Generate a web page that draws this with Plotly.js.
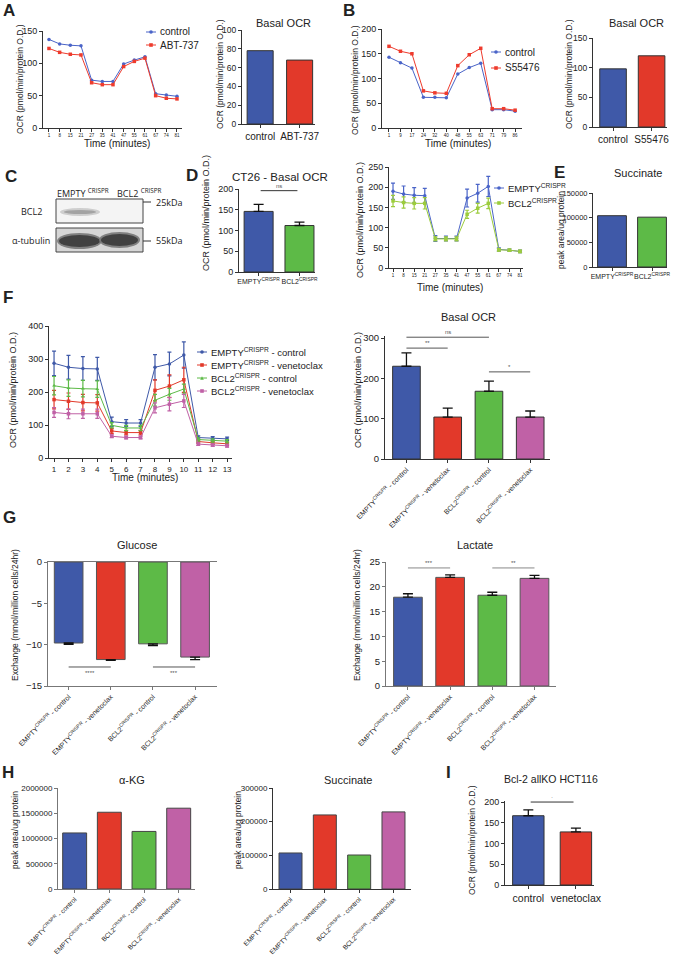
<!DOCTYPE html>
<html><head><meta charset="utf-8">
<script src="https://cdn.plot.ly/plotly-3.0.1.min.js"></script>
<style>html,body{margin:0;padding:0;background:#fff}#chart{width:685px;height:957px}</style>
</head><body><div id="chart"></div>
<script>
// ---------- DATA ----------
const aTime=['1','8','15','21','27','35','41','47','55','61','67','74','81'];
const aControl=[137,130,128,127,74,72,72,99,105,110,53,51,49];
const aABT737=[123,117,114,113,70,67,67,95,103,108,50,46,45];
const aBarGroups=['control','ABT-737'];
const aBasalOCR=[78,68];

const bTime=['1','9','17','24','32','40','48','55','63','71','79','86'];
const bControl=[143,132,121,62,62,61,109,122,131,37,37,34];
const bS55476=[165,155,150,75,71,70,126,148,161,39,39,36];
const bBarGroups=['control','S55476'];
const bBasalOCR=[98,120];

const dGroups=['EMPTY<sup>CRISPR</sup>','BCL2<sup>CRISPR</sup>'];
const dBasalOCR=[146,112];
const dBasalErr=[17,8];
const dTime=['1','8','15','21','27','35','41','47','55','61','67','74','81'];
const dEmpty=[190,183,180,179,73,73,73,173,185,202,46,44,41];
const dEmptyErr=[20,20,19,18,7,6,6,22,22,25,4,3,3];
const dBcl2=[166,162,160,160,72,72,72,133,148,160,45,44,41];
const dBcl2Err=[14,14,14,14,5,5,5,10,12,13,3,3,3];

const eGroups=['EMPTY<sup>CRISPR</sup>','BCL2<sup>CRISPR</sup>'];
const eSuccinate=[104000,101000];

const fTime=['1','2','3','4','5','6','7','8','9','10','11','12','13'];
const fEmptyCtrl=[287,275,271,270,110,106,106,275,285,312,62,60,58];
const fEmptyCtrlErr=[37,36,36,35,14,10,10,38,36,40,5,5,5];
const fEmptyVen=[177,172,168,167,82,77,77,205,218,237,50,46,43];
const fEmptyVenErr=[28,25,25,25,8,7,7,32,34,38,5,5,5];
const fBcl2Ctrl=[219,212,210,209,99,91,91,175,193,209,56,53,51];
const fBcl2CtrlErr=[28,25,25,25,8,8,8,18,18,15,5,5,5];
const fBcl2Ven=[138,134,134,134,66,62,62,152,163,173,42,39,37];
const fBcl2VenErr=[15,15,14,14,4,4,4,15,20,20,4,4,4];
const fGroups=['EMPTY<sup>CRISPR</sup> - control','EMPTY<sup>CRISPR</sup> - venetoclax','BCL2<sup>CRISPR</sup> - control','BCL2<sup>CRISPR</sup> - venetoclax'];
const fBasalOCR=[230,104,168,104];
const fBasalErr=[33,22,25,15];

const gGlucose=[-9.8,-11.8,-9.9,-11.5];
const gGlucoseErr=[0.15,0.1,0.2,0.3];
const gLactate=[17.9,21.9,18.3,21.7];
const gLactateErr=[0.7,0.5,0.6,0.6];

const hAKG=[1110000,1520000,1140000,1600000];
const hSuccinate=[107000,220000,101000,229000];

const iGroups=['control','venetoclax'];
const iBasalOCR=[167,128];
const iBasalErr=[14,9];

// ---------- STYLE ----------
const W=685,H=957;
const FONT='Arial, "Liberation Sans", sans-serif';
const BLUE='#3f59a8',RED='#e2392a',GREEN='#5dba47',MAG='#c061a6';
const LBLUE='#4a64c8',LRED='#ee3b2d',LGREEN='#9ccc3c';
const C4=[BLUE,RED,GREEN,MAG];
const px=x=>x/W, py=y=>1-y/H;
const layout={width:W,height:H,margin:{l:0,r:0,t:0,b:0},showlegend:false,
  paper_bgcolor:'#fff',plot_bgcolor:'rgba(0,0,0,0)',font:{family:FONT,size:9,color:'#222'},
  annotations:[],shapes:[]};
const data=[];
const sfx=n=>n>1?String(n):'';

function addAxes(n,box,xr,yr,o){
  o=o||{};
  const lc=o.lc||'#333';
  const base={showline:true,linecolor:lc,linewidth:1,ticks:'outside',tickcolor:lc,ticklen:3,
    showgrid:false,zeroline:false,fixedrange:true};
  layout['xaxis'+sfx(n)]=Object.assign({},base,{domain:[px(box[0]),px(box[1])],anchor:'y'+sfx(n),
    type:'category',range:xr,tickangle:o.xangle!=null?o.xangle:0,
    tickfont:{size:o.xfs||9,color:'#222',family:FONT}},o.x||{});
  layout['yaxis'+sfx(n)]=Object.assign({},base,{domain:[py(box[3]),py(box[2])],anchor:'x'+sfx(n),
    range:yr,tick0:0,dtick:o.dtick,tickformat:'d',tickfont:{size:o.yfs||9,color:'#222',family:FONT}},o.y||{});
}
function txt(x,y,text,size,opt){
  layout.annotations.push(Object.assign({xref:'paper',yref:'paper',x:px(x),y:py(y),text:text,showarrow:false,
    font:{size:size,color:'#222',family:FONT},xanchor:'center',yanchor:'middle'},opt||{}));
}
function letter(x,y,t){txt(x,y,'<b>'+t+'</b>',17,{xanchor:'left'});}
function ytitle(x,y,t,s){txt(x,y,t,s||9,{textangle:-90});}
function lineTrace(n,x,y,color,sym,err){
  const t={type:'scatter',mode:'lines+markers',x:x,y:y,xaxis:'x'+sfx(n),yaxis:'y'+sfx(n),
    line:{color:color,width:1},marker:{symbol:sym,size:3.5,color:color},cliponaxis:false};
  if(err) t.error_y={type:'data',array:err,visible:true,color:color,thickness:1.2,width:2};
  data.push(t);
}
function barTrace(n,x,y,colors,width,err,opt){
  opt=opt||{};
  const t={type:'bar',x:x,y:y,xaxis:'x'+sfx(n),yaxis:'y'+sfx(n),width:width,
    marker:{color:colors,line:{color:opt.lc||'#333',width:1}}};
  if(err){
    const zeros=err.map(()=>0);
    t.error_y=opt.down?{type:'data',symmetric:false,array:zeros,arrayminus:err,color:'#111',thickness:1.3,width:5}
                      :{type:'data',symmetric:false,array:err,arrayminus:zeros,color:'#111',thickness:1.3,width:5};
  }
  data.push(t);
}
function sig(n,x0,x1,y,label,above,color){
  layout.shapes.push({type:'line',xref:'x'+sfx(n),yref:'y'+sfx(n),x0:x0,x1:x1,y0:y,y1:y,
    line:{color:color||'#555',width:1}});
  layout.annotations.push({xref:'x'+sfx(n),yref:'y'+sfx(n),x:(x0+x1)/2,y:y,text:label,showarrow:false,
    font:{size:6,color:'#555',family:FONT},yanchor:above?'bottom':'top',yshift:above?0:-1});
}
function legendItem(x,y,color,sym,label,size){
  layout.shapes.push({type:'line',xref:'paper',yref:'paper',x0:px(x),x1:px(x+10),y0:py(y),y1:py(y),line:{color:color,width:1}});
  const c=x+5,r=1.8;
  if(sym==='circle') layout.shapes.push({type:'circle',xref:'paper',yref:'paper',x0:px(c-r),x1:px(c+r),y0:py(y-r),y1:py(y+r),fillcolor:color,line:{width:0}});
  else if(sym==='triangle') layout.shapes.push({type:'path',xref:'paper',yref:'paper',
    path:`M${px(c-r)},${py(y+r)} L${px(c+r)},${py(y+r)} L${px(c)},${py(y-r)} Z`,fillcolor:color,line:{width:0}});
  else layout.shapes.push({type:'rect',xref:'paper',yref:'paper',x0:px(c-r),x1:px(c+r),y0:py(y-r),y1:py(y+r),fillcolor:color,line:{width:0}});
  txt(x+12,y,label,size,{xanchor:'left'});
}

// ---------- A ----------
letter(1,10,'A');
addAxes(1,[43,182,31,128],[-0.56,12.47],[0,150],{xfs:4.5,dtick:50});
lineTrace(1,aTime,aControl,LBLUE,'circle');
lineTrace(1,aTime,aABT737,LRED,'square');
legendItem(146,32,LBLUE,'circle','control',10);
legendItem(146,45,LRED,'square','ABT-737',10);
ytitle(20,79,'OCR (pmol/min/protein O.D.)',8.5);
txt(117,143,'Time (minutes)',10);

addAxes(2,[242,315,30,124],[-0.46,1.39],[0,100],{xfs:10,yfs:8.5,dtick:20});
barTrace(2,aBarGroups,aBasalOCR,[BLUE,RED],0.66);
txt(283,23,'Basal OCR',11);
ytitle(220,74,'OCR (pmol/min/protein O.D.)',8.5);

// ---------- B ----------
letter(341,10,'B');
addAxes(3,[382,522,29,128],[-0.61,11.6],[0,200],{xfs:4.5,dtick:50});
lineTrace(3,bTime,bControl,LBLUE,'circle');
lineTrace(3,bTime,bS55476,LRED,'square');
legendItem(491,52,LBLUE,'circle','control',10);
legendItem(491,68,LRED,'square','S55476',10);
ytitle(355,80,'OCR (pmol/min/protein O.D.)',8.5);
txt(458,143,'Time (minutes)',10);

addAxes(4,[593,667,38,127],[-0.52,1.4],[0,150],{xfs:10,yfs:8.5,dtick:50});
barTrace(4,bBarGroups,bBasalOCR,[BLUE,RED],0.69);
txt(636,23,'Basal OCR',11);
ytitle(569,74,'OCR (pmol/min/protein O.D.)',8.5);

// ---------- C (western blot) ----------
letter(3,177,'C');
const BF='"Open Sans", "Noto Sans", sans-serif';
txt(55,193,'EMPTY <sup>CRISPR</sup>',9,{xanchor:'left',font:{size:9,color:'#222',family:BF}});
txt(115,193,'BCL2 <sup>CRISPR</sup>',9,{xanchor:'left',font:{size:9,color:'#222',family:BF}});
txt(19,212,'BCL2',9,{xanchor:'left',font:{size:9,color:'#222',family:BF}});
txt(10,241,'α-tubulin',9,{xanchor:'left',font:{size:9,color:'#222',family:BF}});
txt(154,202,'25kDa',9,{xanchor:'left',font:{size:9,color:'#222',family:BF}});
txt(154,241,'55kDa',9,{xanchor:'left',font:{size:9,color:'#222',family:BF}});
function prect(x0,y0,x1,y1,fill,lc,lw){layout.shapes.push({type:'rect',xref:'paper',yref:'paper',x0:px(x0),x1:px(x1),y0:py(y1),y1:py(y0),fillcolor:fill,line:{color:lc||fill,width:lw||0}});}
function pell(x0,y0,x1,y1,fill,op){layout.shapes.push({type:'circle',xref:'paper',yref:'paper',x0:px(x0),x1:px(x1),y0:py(y1),y1:py(y0),fillcolor:fill,opacity:op||1,line:{width:0}});}
prect(56,199,143,223,'#f4f4f4','#444',1);
prect(56,228,143,252,'#d6d6d6','#444',1);
pell(60,208,100,216,'#c4c4c4',0.8);
pell(64,210,96,214,'#999',0.8);
pell(57,233,102,249,'#777',0.9);
pell(59,235,100,247,'#3a3a3a',0.9);
pell(99,232,140,248,'#777',0.9);
pell(101,234,138,246,'#3a3a3a',0.9);
layout.shapes.push({type:'line',xref:'paper',yref:'paper',x0:px(143),x1:px(151),y0:py(202),y1:py(202),line:{color:'#333',width:1}});
layout.shapes.push({type:'line',xref:'paper',yref:'paper',x0:px(143),x1:px(151),y0:py(241),y1:py(241),line:{color:'#333',width:1}});

// ---------- D ----------
letter(184,175,'D');
addAxes(5,[239,315,189,272],[-0.48,1.38],[0,200],{xfs:7,dtick:50});
barTrace(5,dGroups,dBasalOCR,[BLUE,GREEN],0.71,dBasalErr);
sig(5,0.05,0.95,196,'ns',true,'#333');
txt(280,177,'CT26 - Basal OCR',11.5);
ytitle(206,213,'OCR (pmol/min/protein O.D.)',9);

addAxes(6,[389,523,167,268],[-0.38,12.28],[0,250],{xfs:4.5,dtick:50});
lineTrace(6,dTime,dEmpty,LBLUE,'circle',dEmptyErr);
lineTrace(6,dTime,dBcl2,LGREEN,'square',dBcl2Err);
legendItem(494,188,LBLUE,'circle','EMPTY<sup>CRISPR</sup>',9.5);
legendItem(494,203,LGREEN,'square','BCL2<sup>CRISPR</sup>',9.5);
ytitle(360,220,'OCR (pmol/min/protein O.D.)',9);
txt(450,287,'Time (minutes)',10);

// ---------- E ----------
letter(552,172,'E');
addAxes(7,[593,667,193,267],[-0.475,1.375],[0,150000],{xfs:7,yfs:7.5,dtick:50000});
barTrace(7,eGroups,eSuccinate,[BLUE,GREEN],0.72);
txt(638,173,'Succinate',11);
ytitle(561,230,'peak area/ug protein',8.5);

// ---------- F ----------
letter(1,298,'F');
addAxes(8,[49,232,326,458],[-0.35,12.34],[0,400],{xfs:8,dtick:100});
lineTrace(8,fTime,fEmptyCtrl,BLUE,'circle',fEmptyCtrlErr);
lineTrace(8,fTime,fEmptyVen,RED,'square',fEmptyVenErr);
lineTrace(8,fTime,fBcl2Ctrl,GREEN,'triangle-up',fBcl2CtrlErr);
lineTrace(8,fTime,fBcl2Ven,MAG,'square',fBcl2VenErr);
legendItem(197,352,BLUE,'circle','EMPTY<sup>CRISPR</sup> - control',9.5);
legendItem(197,365,RED,'square','EMPTY<sup>CRISPR</sup> - venetoclax',9.5);
legendItem(197,378,GREEN,'triangle','BCL2<sup>CRISPR</sup> - control',9.5);
legendItem(197,391,MAG,'square','BCL2<sup>CRISPR</sup> - venetoclax',9.5);
ytitle(13,390,'OCR (pmol/min/protein O.D.)',9);
txt(145,477,'Time (minutes)',10);

addAxes(9,[385,550,335.6,459],[-0.52,3.48],[0,306],{xfs:7,xangle:-45,dtick:100,yfs:9.5});
barTrace(9,fGroups,fBasalOCR,C4,0.67,fBasalErr);
sig(9,0,2,302,'ns',true);
sig(9,0,1,275,'**',true);
sig(9,2,3,216,'*',true);
txt(468,317,'Basal OCR',11);
ytitle(358,390,'OCR (pmol/min/protein O.D.)',9);

// ---------- G ----------
letter(1,517,'G');
addAxes(10,[48,217,562,686],[-0.49,3.52],[-15,0],{xfs:7,xangle:-45,dtick:5,yfs:9.5,lc:'#777',x:{mirror:true}});
barTrace(10,fGroups,gGlucose,C4,0.68,gGlucoseErr,{down:true,lc:'#555'});
sig(10,0,1,-12.7,'****',false);
sig(10,2,3,-12.7,'***',false);
txt(137,545,'Glucose',11);
ytitle(15,615,'Exchange (mmol/million cells/24hr)',8.5);

addAxes(11,[386,556,562,686],[-0.52,3.51],[0,25],{xfs:7,xangle:-45,dtick:5,yfs:9.5,lc:'#777'});
barTrace(11,fGroups,gLactate,C4,0.68,gLactateErr,{lc:'#555'});
sig(11,0,1,23.8,'***',true,'#888');
sig(11,2,3,23.8,'**',true,'#888');
txt(475,545,'Lactate',11);
ytitle(357,615,'Exchange (mmol/million cells/24hr)',8.5);

// ---------- H ----------
letter(0,772,'H');
addAxes(12,[58,195,788,889],[-0.48,3.47],[0,2000000],{xfs:6.6,xangle:-45,dtick:500000,yfs:8,lc:'#777'});
barTrace(12,fGroups,hAKG,C4,0.69,null,{lc:'#444'});
txt(132,780,'α-KG',11);
ytitle(15,830,'peak area/ug protein',8.5);

addAxes(13,[273,411,788,889],[-0.51,3.51],[0,300000],{xfs:6.6,xangle:-45,dtick:100000,yfs:8});
barTrace(13,fGroups,hSuccinate,C4,0.67,null,{lc:'#444'});
txt(348,780,'Succinate',11);
ytitle(238,830,'peak area/ug protein',8.5);

// ---------- I ----------
letter(444,772,'I');
addAxes(14,[505,594,800.8,885],[-0.49,1.38],[0,203],{xfs:10.5,dtick:50});
barTrace(14,iGroups,iBasalOCR,[BLUE,RED],0.66,iBasalErr);
sig(14,0.05,0.95,200,'·',true,'#333');
txt(551,779,'Bcl-2 allKO HCT116',10.5);
ytitle(472,840,'OCR (pmol/min/protein O.D.)',8.5);

Plotly.newPlot('chart',data,layout,{displayModeBar:false,staticPlot:true});
</script></body></html>
